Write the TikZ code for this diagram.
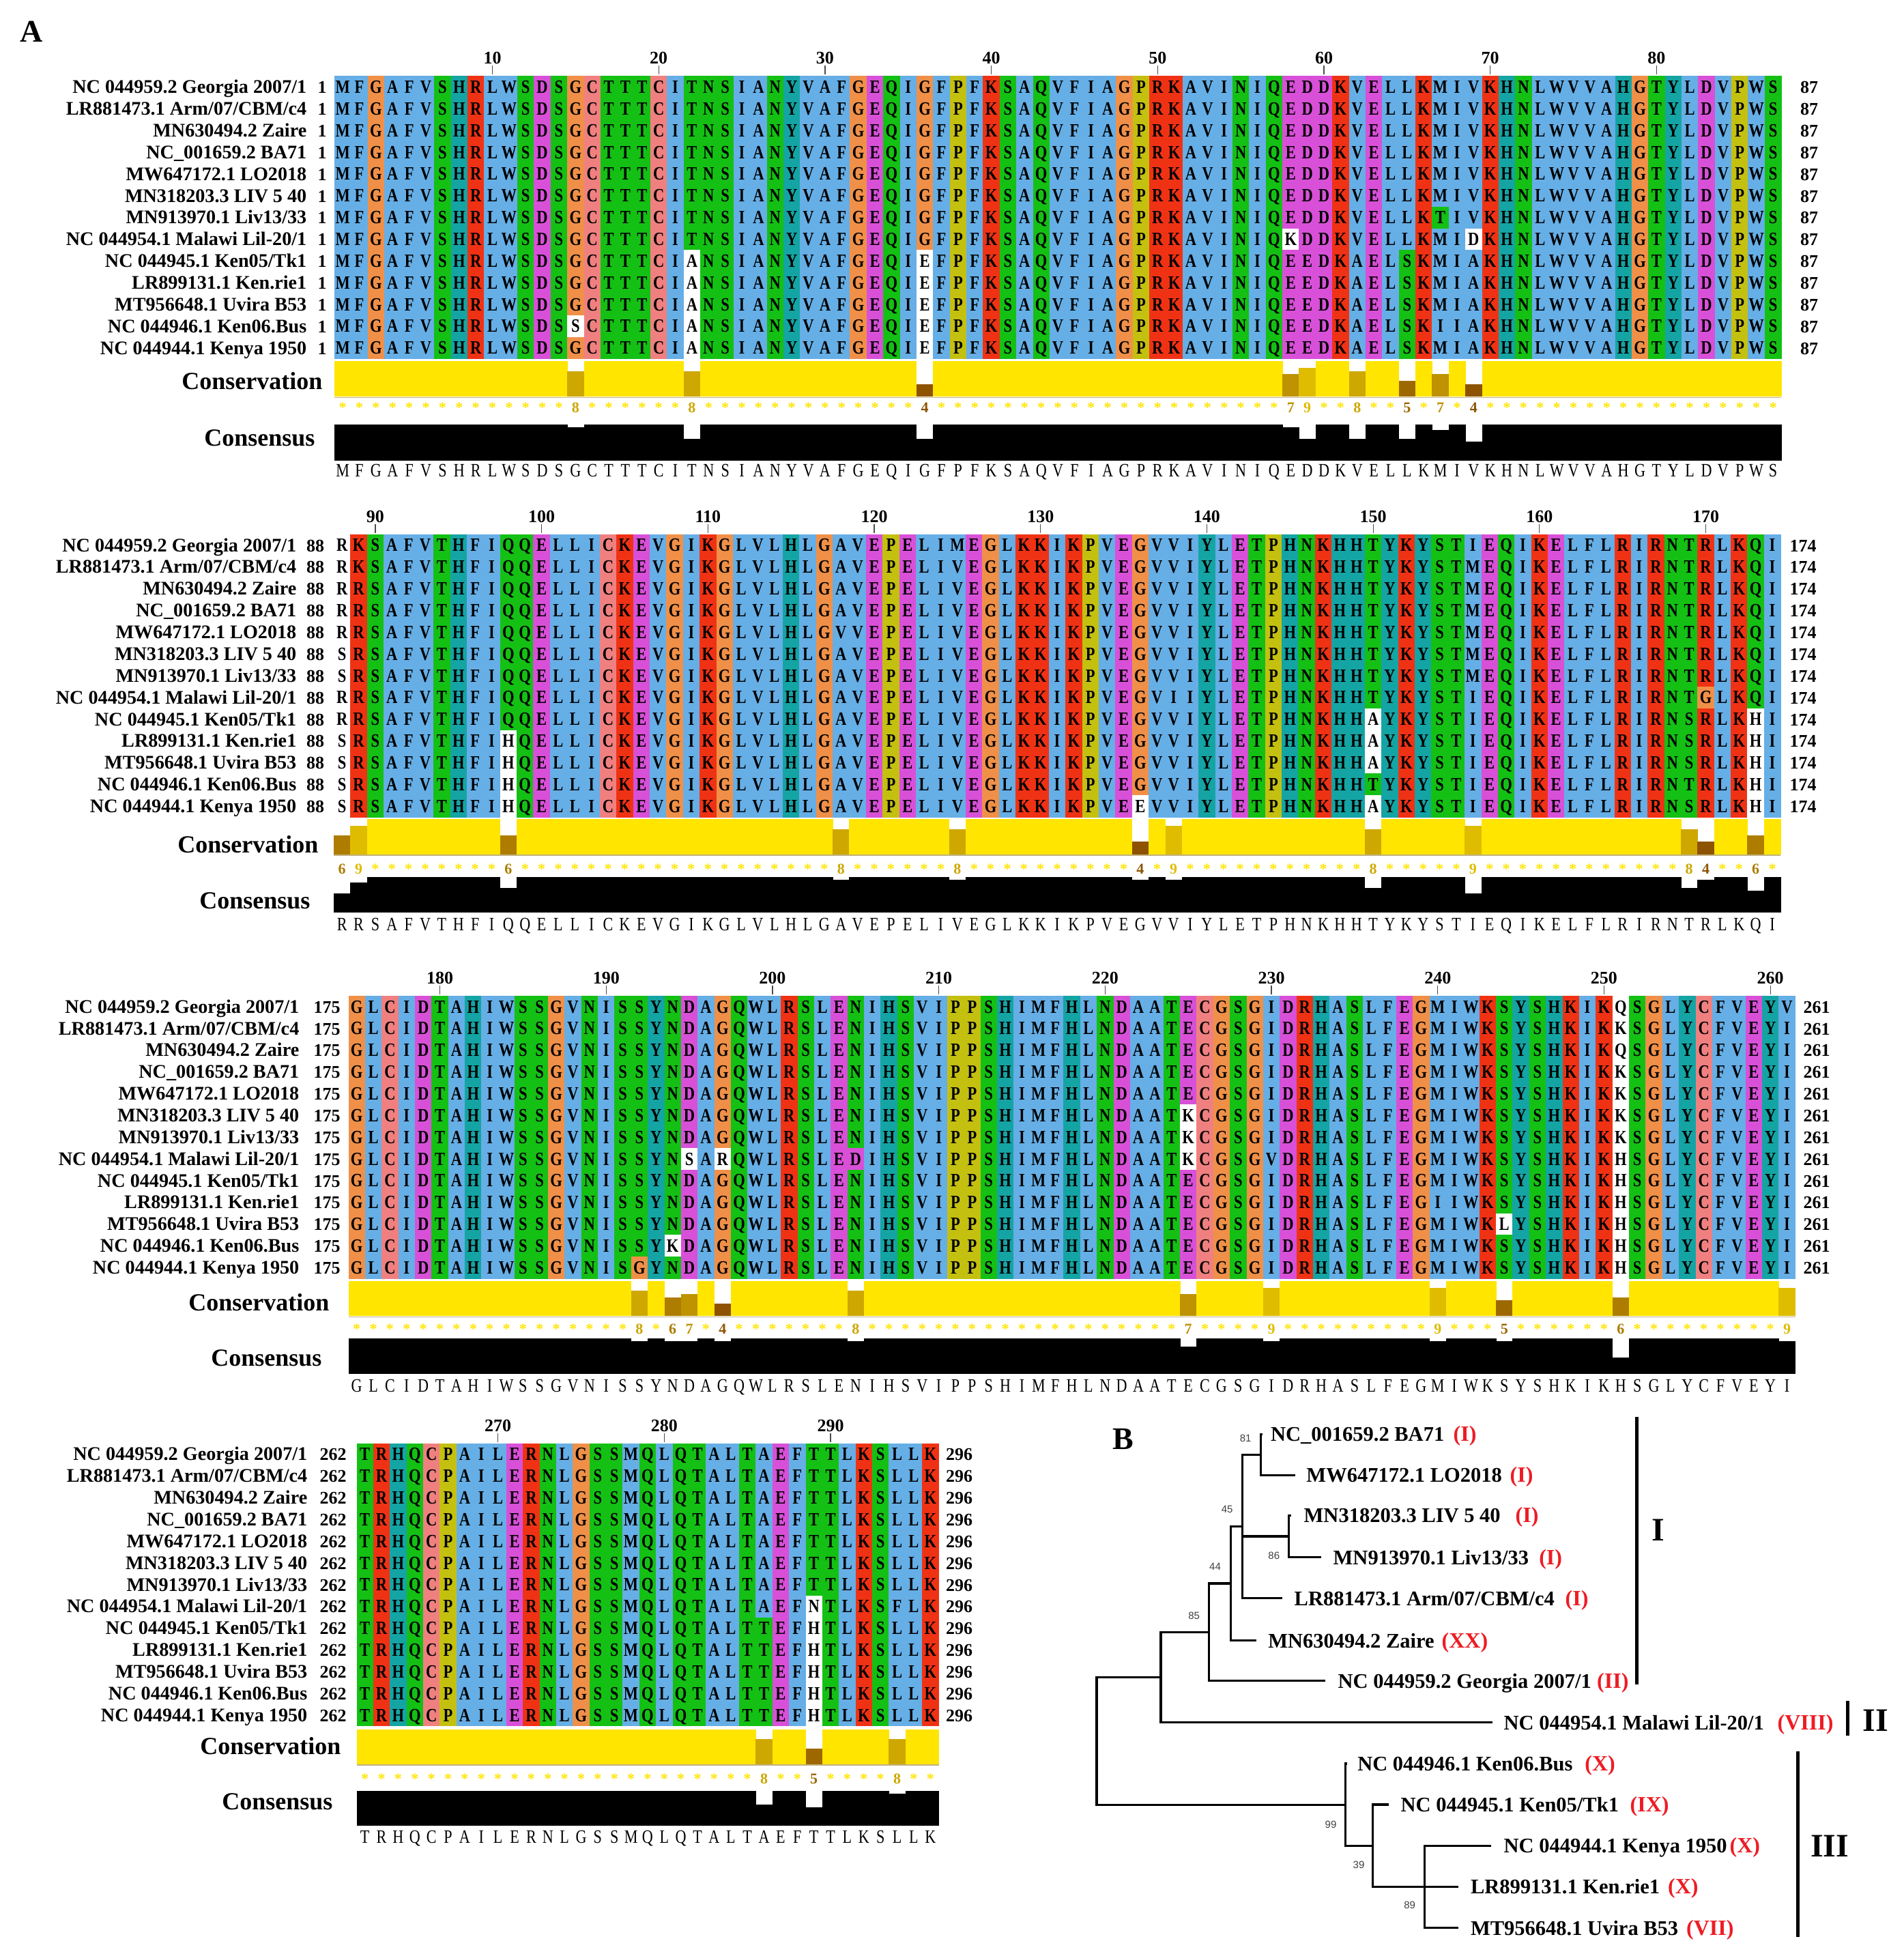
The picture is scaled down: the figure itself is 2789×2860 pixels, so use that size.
\documentclass[tikz,border=0pt]{standalone}
\usepackage{fontspec}
\setmainfont{Liberation Serif}
\newfontfamily\resfam[FakeStretch=0.82]{Liberation Serif}
\newfontfamily\conslfam[FakeStretch=0.8]{Liberation Serif}
\newfontfamily\bootfam{Liberation Sans}
\usetikzlibrary{calc}

\definecolor{cBlue}{HTML}{66AEE6}
\definecolor{cRed}{HTML}{F03214}
\definecolor{cGreen}{HTML}{14C014}
\definecolor{cMag}{HTML}{D850D8}
\definecolor{cPink}{HTML}{F08080}
\definecolor{cOrange}{HTML}{F09048}
\definecolor{cOlive}{HTML}{C4C010}
\definecolor{cTeal}{HTML}{15A4A4}
\definecolor{gRed}{HTML}{EE1C24}
\definecolor{baseLine}{rgb}{0.76,0.70,0.50}

\colorlet{rcA}{cBlue}\colorlet{rcI}{cBlue}\colorlet{rcL}{cBlue}\colorlet{rcM}{cBlue}
\colorlet{rcF}{cBlue}\colorlet{rcW}{cBlue}\colorlet{rcV}{cBlue}
\colorlet{rcC}{cPink}
\colorlet{rcK}{cRed}\colorlet{rcR}{cRed}
\colorlet{rcE}{cMag}\colorlet{rcD}{cMag}
\colorlet{rcN}{cGreen}\colorlet{rcQ}{cGreen}\colorlet{rcS}{cGreen}\colorlet{rcT}{cGreen}
\colorlet{rcG}{cOrange}
\colorlet{rcP}{cOlive}
\colorlet{rcH}{cTeal}\colorlet{rcY}{cTeal}
\colorlet{rca}{white}\colorlet{rcd}{white}\colorlet{rce}{white}\colorlet{rch}{white}
\colorlet{rck}{white}\colorlet{rcl}{white}\colorlet{rcn}{white}\colorlet{rcq}{white}
\colorlet{rcr}{white}\colorlet{rcs}{white}

% conservation colours (Jalview gradient)
\definecolor{cons4}{rgb}{0.555,0.327,0}
\definecolor{cons5}{rgb}{0.618,0.409,0}
\definecolor{cons6}{rgb}{0.682,0.491,0}
\definecolor{cons7}{rgb}{0.745,0.573,0}
\definecolor{cons8}{rgb}{0.809,0.655,0}
\definecolor{cons9}{rgb}{0.873,0.736,0}
\definecolor{cons11}{rgb}{1,0.9,0}

\newcommand\fntName{\bfseries\fontsize{8.46}{9}\selectfont}
\newcommand\fntNum{\bfseries\fontsize{7.8}{8}\selectfont}
\newcommand\fntTick{\bfseries\fontsize{7.8}{8}\selectfont}
\newcommand\fntRowLab{\bfseries\fontsize{10.8}{11}\selectfont}
\newcommand\fntRes{\resfam\bfseries\fontsize{8.25}{9}\selectfont}
\newcommand\fntConsLet{\conslfam\fontsize{8.3}{9}\selectfont}
\newcommand\fntCNum{\bfseries\fontsize{6.6}{7}\selectfont}
\newcommand\fntTLab{\bfseries\fontsize{9.15}{10}\selectfont}
\newcommand\fntGLab{\bfseries\fontsize{9.6}{10}\selectfont}
\newcommand\fntBoot{\bootfam\fontsize{4.5}{5}\selectfont}
\newcommand\fntClade{\bfseries\fontsize{14.4}{15}\selectfont}
\newcommand\fntPanel{\bfseries\fontsize{13.8}{14}\selectfont}

\newcount\colidx
\newcommand\cellw{24.37}
\newcommand\rowh{31.86}
\long\def\mygobble#1{}
\long\def\myfirst#1{#1}

\def\defseq#1#2{\expandafter\def\csname s#1\endcsname{#2}}
\def\defname#1#2{\expandafter\def\csname nm#1\endcsname{#2}}
\def\defcv#1#2#3{\expandafter\def\csname cv#1\endcsname{#2}\expandafter\def\csname cf#1\endcsname{#3}}

% ---- residue rows
\def\seqproc#1{\ifx\relax#1\expandafter\mygobble\else\expandafter\myfirst\fi{\seqcell{#1}\advance\colidx by 1\relax\seqproc}}
\def\seqcell#1{%
  \pgfmathsetmacro\mycx{\mysx+\the\colidx*\cellw}%
  \fill[rc#1] (\mycx,\mysy) rectangle ++(\cellw+0.5,\rowh+0.5);%
  \pgfmathsetmacro\mycxm{\mycx+0.5*\cellw}%
  \pgftext[base,at={\pgfpointxy{\mycxm}{\mysb}}]{\uppercase{#1}}}
\def\drawrows#1#2#3{%
  \begingroup\fntRes
  \foreach \ri in {1,...,13}{%
    \pgfmathsetmacro\mysy{#3+(\ri-1)*\rowh}%
    \pgfmathsetmacro\mysb{\mysy+0.5*\rowh+9.1}%
    \def\mysx{#2}\colidx=0\relax
    \expandafter\expandafter\expandafter\seqproc\csname s#1\ri\endcsname\relax}%
  \endgroup}

% ---- conservation + consensus
\def\consproc#1{\ifx\relax#1\expandafter\mygobble\else\expandafter\myfirst\fi{\conscell{#1}\advance\colidx by 1\relax\consproc}}
\def\conscell#1{%
  \edef\mypos{\number\numexpr\mycstart+\colidx\relax}%
  \ifcsname cv\mypos\endcsname
    \edef\myvv{\csname cv\mypos\endcsname}\edef\myff{\csname cf\mypos\endcsname}%
  \else\def\myvv{11}\def\myff{13}\fi
  \pgfmathsetmacro\mycx{\mysx+\the\colidx*\cellw}%
  \pgfmathsetmacro\mycxm{\mycx+0.5*\cellw}%
  \fill[cons\myvv] (\mycx,\mycbB) rectangle ++(\cellw+0.5,-\myvv/11*\mycbH);%
  \fill[black] (\mycx,\mycsB) rectangle ++(\cellw+0.5,-\myff/13*\mycsH);%
  \pgftext[base,at={\pgfpointxy{\mycxm}{\mycnB}}]{\fntCNum\color{cons\myvv}\ifnum\myvv=11 *\else\myvv\fi}%
  \pgftext[base,at={\pgfpointxy{\mycxm}{\myclB}}]{\fntConsLet #1}}
\def\drawcons#1#2#3#4#5#6#7#8#9{%
  \begingroup
  \def\mysx{#1}\def\mycstart{#2}\def\mycbB{#3}\def\mycbH{#4}%
  \def\mycsB{#5}\def\mycsH{#6}\def\mycnB{#7}\def\myclB{#8}%
  \colidx=0\relax
  \consproc #9\relax
  \endgroup}

% ---- names and numbers
\def\drawnames#1#2#3#4#5#6{%
  \foreach \ri in {1,...,13}{%
    \pgfmathsetmacro\myny{#1+(\ri-0.5)*\rowh+9.3}%
    \node[nm] (nm#4x\ri) at (#2,\myny) {\csname nm\ri\endcsname};
    \node[rnum] (sn#4x\ri) at (#3,\myny) {#4};
    \node[rnum] (en#4x\ri) at (#5,\myny) {#6};}}
\def\drawticks#1#2#3#4{%
  \foreach \tkv in {#4}{%
    \pgfmathsetmacro\mytx{#1+(\tkv-#2+0.5)*\cellw}%
    \draw[tickline] (\mytx,#3-15) -- (\mytx,#3-2);
    \node[tk] (tk\tkv) at (\mytx,#3-17.5) {\tkv};}}

\defname{1}{NC 044959.2 Georgia 2007/1}
\defname{2}{LR881473.1 Arm/07/CBM/c4}
\defname{3}{MN630494.2 Zaire}
\defname{4}{NC\_001659.2 BA71}
\defname{5}{MW647172.1 LO2018}
\defname{6}{MN318203.3 LIV 5 40}
\defname{7}{MN913970.1 Liv13/33}
\defname{8}{NC 044954.1 Malawi Lil-20/1}
\defname{9}{NC 044945.1 Ken05/Tk1}
\defname{10}{LR899131.1 Ken.rie1}
\defname{11}{MT956648.1 Uvira B53}
\defname{12}{NC 044946.1 Ken06.Bus}
\defname{13}{NC 044944.1 Kenya 1950}

% Block 1 (1-87)
\defseq{a1}{MFGAFVSHRL WSDSGCTTTC ITNSIANYVA FGEQIGFPFK SAQVFIAGPR KAVINIQEDD KVELLKMIVK HNLWVVAHGT YLDVPWS}
\defseq{a2}{MFGAFVSHRL WSDSGCTTTC ITNSIANYVA FGEQIGFPFK SAQVFIAGPR KAVINIQEDD KVELLKMIVK HNLWVVAHGT YLDVPWS}
\defseq{a3}{MFGAFVSHRL WSDSGCTTTC ITNSIANYVA FGEQIGFPFK SAQVFIAGPR KAVINIQEDD KVELLKMIVK HNLWVVAHGT YLDVPWS}
\defseq{a4}{MFGAFVSHRL WSDSGCTTTC ITNSIANYVA FGEQIGFPFK SAQVFIAGPR KAVINIQEDD KVELLKMIVK HNLWVVAHGT YLDVPWS}
\defseq{a5}{MFGAFVSHRL WSDSGCTTTC ITNSIANYVA FGEQIGFPFK SAQVFIAGPR KAVINIQEDD KVELLKMIVK HNLWVVAHGT YLDVPWS}
\defseq{a6}{MFGAFVSHRL WSDSGCTTTC ITNSIANYVA FGEQIGFPFK SAQVFIAGPR KAVINIQEDD KVELLKMIVK HNLWVVAHGT YLDVPWS}
\defseq{a7}{MFGAFVSHRL WSDSGCTTTC ITNSIANYVA FGEQIGFPFK SAQVFIAGPR KAVINIQEDD KVELLKTIVK HNLWVVAHGT YLDVPWS}
\defseq{a8}{MFGAFVSHRL WSDSGCTTTC ITNSIANYVA FGEQIGFPFK SAQVFIAGPR KAVINIQkDD KVELLKMIdK HNLWVVAHGT YLDVPWS}
\defseq{a9}{MFGAFVSHRL WSDSGCTTTC IaNSIANYVA FGEQIeFPFK SAQVFIAGPR KAVINIQEED KAELSKMIAK HNLWVVAHGT YLDVPWS}
\defseq{a10}{MFGAFVSHRL WSDSGCTTTC IaNSIANYVA FGEQIeFPFK SAQVFIAGPR KAVINIQEED KAELSKMIAK HNLWVVAHGT YLDVPWS}
\defseq{a11}{MFGAFVSHRL WSDSGCTTTC IaNSIANYVA FGEQIeFPFK SAQVFIAGPR KAVINIQEED KAELSKMIAK HNLWVVAHGT YLDVPWS}
\defseq{a12}{MFGAFVSHRL WSDSsCTTTC IaNSIANYVA FGEQIeFPFK SAQVFIAGPR KAVINIQEED KAELSKIIAK HNLWVVAHGT YLDVPWS}
\defseq{a13}{MFGAFVSHRL WSDSGCTTTC IaNSIANYVA FGEQIeFPFK SAQVFIAGPR KAVINIQEED KAELSKMIAK HNLWVVAHGT YLDVPWS}

% Block 2 (88-174)
\defseq{b1}{rKSAFVTHFI QQELLICKEV GIKGLVLHLG AVEPELIMEG LKKIKPVEGV VIYLETPHNK HHTYKYSTIE QIKELFLRIR NTRLKQI}
\defseq{b2}{rKSAFVTHFI QQELLICKEV GIKGLVLHLG AVEPELIVEG LKKIKPVEGV VIYLETPHNK HHTYKYSTME QIKELFLRIR NTRLKQI}
\defseq{b3}{rRSAFVTHFI QQELLICKEV GIKGLVLHLG AVEPELIVEG LKKIKPVEGV VIYLETPHNK HHTYKYSTME QIKELFLRIR NTRLKQI}
\defseq{b4}{rRSAFVTHFI QQELLICKEV GIKGLVLHLG AVEPELIVEG LKKIKPVEGV VIYLETPHNK HHTYKYSTME QIKELFLRIR NTRLKQI}
\defseq{b5}{rRSAFVTHFI QQELLICKEV GIKGLVLHLG VVEPELIVEG LKKIKPVEGV VIYLETPHNK HHTYKYSTME QIKELFLRIR NTRLKQI}
\defseq{b6}{sRSAFVTHFI QQELLICKEV GIKGLVLHLG AVEPELIVEG LKKIKPVEGV VIYLETPHNK HHTYKYSTME QIKELFLRIR NTRLKQI}
\defseq{b7}{sRSAFVTHFI QQELLICKEV GIKGLVLHLG AVEPELIVEG LKKIKPVEGV VIYLETPHNK HHTYKYSTME QIKELFLRIR NTRLKQI}
\defseq{b8}{rRSAFVTHFI QQELLICKEV GIKGLVLHLG AVEPELIVEG LKKIKPVEGV IIYLETPHNK HHTYKYSTIE QIKELFLRIR NTGLKQI}
\defseq{b9}{rRSAFVTHFI QQELLICKEV GIKGLVLHLG AVEPELIVEG LKKIKPVEGV VIYLETPHNK HHaYKYSTIE QIKELFLRIR NSRLKhI}
\defseq{b10}{sRSAFVTHFI hQELLICKEV GIKGLVLHLG AVEPELIVEG LKKIKPVEGV VIYLETPHNK HHaYKYSTIE QIKELFLRIR NSRLKhI}
\defseq{b11}{sRSAFVTHFI hQELLICKEV GIKGLVLHLG AVEPELIVEG LKKIKPVEGV VIYLETPHNK HHaYKYSTIE QIKELFLRIR NSRLKhI}
\defseq{b12}{sRSAFVTHFI hQELLICKEV GIKGLVLHLG AVEPELIVEG LKKIKPVEGV VIYLETPHNK HHTYKYSTIE QIKELFLRIR NTRLKhI}
\defseq{b13}{sRSAFVTHFI hQELLICKEV GIKGLVLHLG AVEPELIVEG LKKIKPVEeV VIYLETPHNK HHaYKYSTIE QIKELFLRIR NSRLKhI}

% Block 3 (175-261)
\defseq{c1}{GLCIDTAHIW SSGVNISSYN DAGQWLRSLE NIHSVIPPSH IMFHLNDAAT ECGSGIDRHA SLFEGMIWKS YSHKIKqSGL YCFVEYV}
\defseq{c2}{GLCIDTAHIW SSGVNISSYN DAGQWLRSLE NIHSVIPPSH IMFHLNDAAT ECGSGIDRHA SLFEGMIWKS YSHKIKkSGL YCFVEYI}
\defseq{c3}{GLCIDTAHIW SSGVNISSYN DAGQWLRSLE NIHSVIPPSH IMFHLNDAAT ECGSGIDRHA SLFEGMIWKS YSHKIKqSGL YCFVEYI}
\defseq{c4}{GLCIDTAHIW SSGVNISSYN DAGQWLRSLE NIHSVIPPSH IMFHLNDAAT ECGSGIDRHA SLFEGMIWKS YSHKIKkSGL YCFVEYI}
\defseq{c5}{GLCIDTAHIW SSGVNISSYN DAGQWLRSLE NIHSVIPPSH IMFHLNDAAT ECGSGIDRHA SLFEGMIWKS YSHKIKkSGL YCFVEYI}
\defseq{c6}{GLCIDTAHIW SSGVNISSYN DAGQWLRSLE NIHSVIPPSH IMFHLNDAAT kCGSGIDRHA SLFEGMIWKS YSHKIKkSGL YCFVEYI}
\defseq{c7}{GLCIDTAHIW SSGVNISSYN DAGQWLRSLE NIHSVIPPSH IMFHLNDAAT kCGSGIDRHA SLFEGMIWKS YSHKIKkSGL YCFVEYI}
\defseq{c8}{GLCIDTAHIW SSGVNISSYN sArQWLRSLE DIHSVIPPSH IMFHLNDAAT kCGSGVDRHA SLFEGMIWKS YSHKIKhSGL YCFVEYI}
\defseq{c9}{GLCIDTAHIW SSGVNISSYN DAGQWLRSLE NIHSVIPPSH IMFHLNDAAT ECGSGIDRHA SLFEGMIWKS YSHKIKhSGL YCFVEYI}
\defseq{c10}{GLCIDTAHIW SSGVNISSYN DAGQWLRSLE NIHSVIPPSH IMFHLNDAAT ECGSGIDRHA SLFEGIIWKS YSHKIKhSGL YCFVEYI}
\defseq{c11}{GLCIDTAHIW SSGVNISSYN DAGQWLRSLE NIHSVIPPSH IMFHLNDAAT ECGSGIDRHA SLFEGMIWKl YSHKIKhSGL YCFVEYI}
\defseq{c12}{GLCIDTAHIW SSGVNISSYk DAGQWLRSLE NIHSVIPPSH IMFHLNDAAT ECGSGIDRHA SLFEGMIWKS YSHKIKhSGL YCFVEYI}
\defseq{c13}{GLCIDTAHIW SSGVNISGYN DAGQWLRSLE NIHSVIPPSH IMFHLNDAAT ECGSGIDRHA SLFEGMIWKS YSHKIKhSGL YCFVEYI}

% Block 4 (262-296)
\defseq{d1}{TRHQCPAILE RNLGSSMQLQ TALTAEFTTL KSLLK}
\defseq{d2}{TRHQCPAILE RNLGSSMQLQ TALTAEFTTL KSLLK}
\defseq{d3}{TRHQCPAILE RNLGSSMQLQ TALTAEFTTL KSLLK}
\defseq{d4}{TRHQCPAILE RNLGSSMQLQ TALTAEFTTL KSLLK}
\defseq{d5}{TRHQCPAILE RNLGSSMQLQ TALTAEFTTL KSLLK}
\defseq{d6}{TRHQCPAILE RNLGSSMQLQ TALTAEFTTL KSLLK}
\defseq{d7}{TRHQCPAILE RNLGSSMQLQ TALTAEFTTL KSLLK}
\defseq{d8}{TRHQCPAILE RNLGSSMQLQ TALTAEFnTL KSFLK}
\defseq{d9}{TRHQCPAILE RNLGSSMQLQ TALTTEFhTL KSLLK}
\defseq{d10}{TRHQCPAILE RNLGSSMQLQ TALTTEFhTL KSLLK}
\defseq{d11}{TRHQCPAILE RNLGSSMQLQ TALTTEFhTL KSLLK}
\defseq{d12}{TRHQCPAILE RNLGSSMQLQ TALTTEFhTL KSLLK}
\defseq{d13}{TRHQCPAILE RNLGSSMQLQ TALTTEFhTL KSLLK}

% conservation score / consensus count (of 13)
\defcv{15}{8}{12}\defcv{22}{8}{8}\defcv{36}{4}{8}\defcv{58}{7}{12}\defcv{59}{9}{8}
\defcv{62}{8}{8}\defcv{65}{5}{8}\defcv{67}{7}{11}\defcv{69}{4}{7}
\defcv{88}{6}{7}\defcv{89}{9}{11}\defcv{98}{6}{9}\defcv{118}{8}{12}\defcv{125}{8}{12}
\defcv{136}{4}{12}\defcv{138}{9}{12}\defcv{150}{8}{9}\defcv{156}{9}{7}\defcv{169}{8}{9}
\defcv{170}{4}{12}\defcv{173}{6}{8}
\defcv{192}{8}{12}\defcv{194}{6}{12}\defcv{195}{7}{12}\defcv{197}{4}{12}\defcv{205}{8}{12}
\defcv{225}{7}{10}\defcv{230}{9}{12}\defcv{240}{9}{12}\defcv{244}{5}{12}\defcv{251}{6}{6}
\defcv{261}{9}{12}
\defcv{286}{8}{8}\defcv{289}{5}{7}\defcv{294}{8}{12}

\begin{document}
\begin{tikzpicture}[x=0.3pt,y=-0.3pt,
  nm/.style={font=\fntName,inner sep=0pt,anchor=base east},
  rnum/.style={font=\fntNum,inner sep=0pt,anchor=base},
  tk/.style={font=\fntTick,inner sep=0pt,anchor=base},
  rowlab/.style={font=\fntRowLab,inner sep=0pt,anchor=base east},
  tickline/.style={draw=black!70,line width=0.35pt},
  baseline/.style={draw=baseLine,line width=0.5pt},
  branch/.style={line width=0.95pt},
  cladebar/.style={line width=1.5pt},
  tlab/.style={font=\fntTLab,inner sep=0pt,anchor=base west},
  glab/.style={font=\fntGLab,text=gRed,inner sep=0pt,anchor=base west},
  boot/.style={font=\fntBoot,text=black!75,inner sep=0pt},
  clade/.style={font=\fntClade,inner sep=0pt},
  panel/.style={font=\fntPanel,inner sep=0pt}]
\useasboundingbox (0,0) rectangle (2789,2860);
\fill[white] (0,0) rectangle (2789,2860);

\node[panel] (pA) at (46,46) {A};

% ---------- Block 1
\drawticks{490}{1}{111.5}{10,20,...,80}
\drawrows{a}{490}{111.5}
\drawnames{111.5}{450}{472}{1}{2651}{87}
\drawcons{490}{1}{581.5}{52.1}{674.8}{52.4}{605}{698.5}{MFGAFVSHRL WSDSGCTTTC ITNSIANYVA FGEQIGFPFK SAQVFIAGPR KAVINIQEDD KVELLKMIVK HNLWVVAHGT YLDVPWS}
\coordinate (blA1) at (490,582.5);
\coordinate (blA2) at (2610,582.5);
\draw[baseline] (blA1) -- (blA2);
\node[rowlab] (cvA) at (473,571) {Conservation};
\node[rowlab] (csA) at (462,653.4) {Consensus};

% ---------- Block 2
\drawticks{489}{88}{782.9}{90,100,...,170}
\drawrows{b}{489}{782.9}
\drawnames{782.9}{435}{462}{88}{2642}{174}
\drawcons{489}{88}{1252.2}{51.8}{1336.7}{51.8}{1280}{1363}{RRSAFVTHFI QQELLICKEV GIKGLVLHLG AVEPELIVEG LKKIKPVEGV VIYLETPHNK HHTYKYSTIE QIKELFLRIR NTRLKQI}
\coordinate (blB1) at (489,1253.2);
\coordinate (blB2) at (2609,1253.2);
\draw[baseline] (blB1) -- (blB2);
\node[rowlab] (cvB) at (467,1249.9) {Conservation};
\node[rowlab] (csB) at (455,1331.5) {Consensus};

% ---------- Block 3
\drawticks{510.5}{175}{1459}{180,190,...,260}
\drawrows{c}{510.5}{1459}
\drawnames{1459}{439}{479}{175}{2662}{261}
\drawcons{510.5}{175}{1928.4}{51.1}{2013}{52}{1954}{2039}{GLCIDTAHIW SSGVNISSYN DAGQWLRSLE NIHSVIPPSH IMFHLNDAAT ECGSGIDRHA SLFEGMIWKS YSHKIKHSGL YCFVEYI}
\coordinate (blC1) at (510.5,1929.4);
\coordinate (blC2) at (2630.7,1929.4);
\draw[baseline] (blC1) -- (blC2);
\node[rowlab] (cvC) at (483,1920.7) {Conservation};
\node[rowlab] (csC) at (472,2001.5) {Consensus};

% ---------- Block 4
\drawticks{522.5}{262}{2114.7}{270,280,290}
\drawrows{d}{522.5}{2114.7}
\drawnames{2114.7}{451}{488}{262}{1405.6}{296}
\drawcons{522.5}{262}{2585.3}{51.8}{2675.3}{51.3}{2613}{2700}{TRHQCPAILE RNLGSSMQLQ TALTAEFTTL KSLLK}
\coordinate (blD1) at (522.5,2586.3);
\coordinate (blD2) at (1375.5,2586.3);
\draw[baseline] (blD1) -- (blD2);
\node[rowlab] (cvD) at (500,2570.6) {Conservation};
\node[rowlab] (csD) at (488,2651.9) {Consensus};

% ---------- Tree (B)
\node[panel] (pB) at (1645.5,2108) {B};
\coordinate (root) at (1607,2551);
\coordinate (nA) at (1701,2457.5);
\coordinate (n85) at (1771.2,2391.3);
\coordinate (n44) at (1803.6,2320);
\coordinate (n45) at (1820.6,2236.4);
\coordinate (n81) at (1847.5,2131.2);
\coordinate (n86) at (1888.4,2251);
\coordinate (n99) at (1971.7,2644.1);
\coordinate (n39) at (2011.8,2704.2);
\coordinate (n89) at (2087.3,2764.4);
\coordinate (tBA) at (1850,2101.2);
\coordinate (tLO) at (1897.6,2161.3);
\coordinate (tLIV) at (1892,2220.4);
\coordinate (tLiv) at (1936.2,2281.6);
\coordinate (tArm) at (1879,2341.8);
\coordinate (tZai) at (1840.6,2403.5);
\coordinate (tGeo) at (1942.4,2462.6);
\coordinate (tMal) at (2186.8,2523.8);
\coordinate (tK06) at (1973.5,2584);
\coordinate (tK05) at (2034.9,2644);
\coordinate (tKen) at (2185.2,2704.2);
\coordinate (tRie) at (2136.7,2764.4);
\coordinate (tUvi) at (2136.7,2824.5);
\foreach \pa/\ch in {root/nA,root/n99,nA/n85,nA/tMal,n85/n44,n85/tGeo,n44/n45,n44/tZai,
  n45/n81,n45/n86,n45/tArm,n81/tBA,n81/tLO,n86/tLIV,n86/tLiv,n99/tK06,n99/n39,
  n39/tK05,n39/n89,n89/tKen,n89/tRie,n89/tUvi}
  \draw[branch] (\pa) |- (\ch);

\node[tlab] (lBA) at (1861.4,2111.7) {NC\_001659.2 BA71};
\node[tlab] (lLO) at (1913.8,2171.8) {MW647172.1 LO2018};
\node[tlab] (lLIV) at (1910,2230.9) {MN318203.3 LIV 5 40};
\node[tlab] (lLiv) at (1953,2292.1) {MN913970.1 Liv13/33};
\node[tlab] (lArm) at (1896,2352.3) {LR881473.1 Arm/07/CBM/c4};
\node[tlab] (lZai) at (1857.6,2414) {MN630494.2 Zaire};
\node[tlab] (lGeo) at (1960,2473.1) {NC 044959.2 Georgia 2007/1};
\node[tlab] (lMal) at (2203,2534.3) {NC 044954.1 Malawi Lil-20/1};
\node[tlab] (lK06) at (1988.6,2594.5) {NC 044946.1 Ken06.Bus};
\node[tlab] (lK05) at (2051.9,2654.5) {NC 044945.1 Ken05/Tk1};
\node[tlab] (lKen) at (2203,2714.7) {NC 044944.1 Kenya 1950};
\node[tlab] (lRie) at (2154.4,2774.9) {LR899131.1 Ken.rie1};
\node[tlab] (lUvi) at (2154.4,2835) {MT956648.1 Uvira B53};

\node[glab] (gBA) at (2129,2111.7) {(I)};
\node[glab] (gLO) at (2212,2171.8) {(I)};
\node[glab] (gLIV) at (2220,2230.9) {(I)};
\node[glab] (gLiv) at (2254.6,2292.1) {(I)};
\node[glab] (gArm) at (2293,2352.3) {(I)};
\node[glab] (gZai) at (2112,2414) {(XX)};
\node[glab] (gGeo) at (2339.5,2473.1) {(II)};
\node[glab] (gMal) at (2604,2534.3) {(VIII)};
\node[glab] (gK06) at (2321.7,2594.5) {(X)};
\node[glab] (gK05) at (2388,2654.5) {(IX)};
\node[glab] (gKen) at (2534,2714.7) {(X)};
\node[glab] (gRie) at (2443.5,2774.9) {(X)};
\node[glab] (gUvi) at (2470.5,2835) {(VII)};

\node[boot] (b81) at (1825.2,2107) {81};
\node[boot] (b45) at (1798.2,2211.5) {45};
\node[boot] (b86) at (1866.8,2279.5) {86};
\node[boot] (b44) at (1780.5,2295.2) {44};
\node[boot] (b85) at (1749.6,2367.4) {85};
\node[boot] (b99) at (1950,2672.9) {99};
\node[boot] (b39) at (1991,2732) {39};
\node[boot] (b89) at (2065.7,2791.6) {89};

\coordinate (cIa) at (2398.8,2075.6);
\coordinate (cIb) at (2398.8,2467.8);
\coordinate (cIIa) at (2707.2,2492.4);
\coordinate (cIIb) at (2707.2,2543.1);
\coordinate (cIIIa) at (2634.7,2565.6);
\coordinate (cIIIb) at (2634.7,2837.6);
\draw[cladebar] (cIa) -- (cIb);
\draw[cladebar] (cIIa) -- (cIIb);
\draw[cladebar] (cIIIa) -- (cIIIb);
\node[clade] (kI) at (2429.6,2241.4) {I};
\node[clade] (kII) at (2748,2521) {II};
\node[clade] (kIII) at (2681,2705) {III};
\end{tikzpicture}
\end{document}
